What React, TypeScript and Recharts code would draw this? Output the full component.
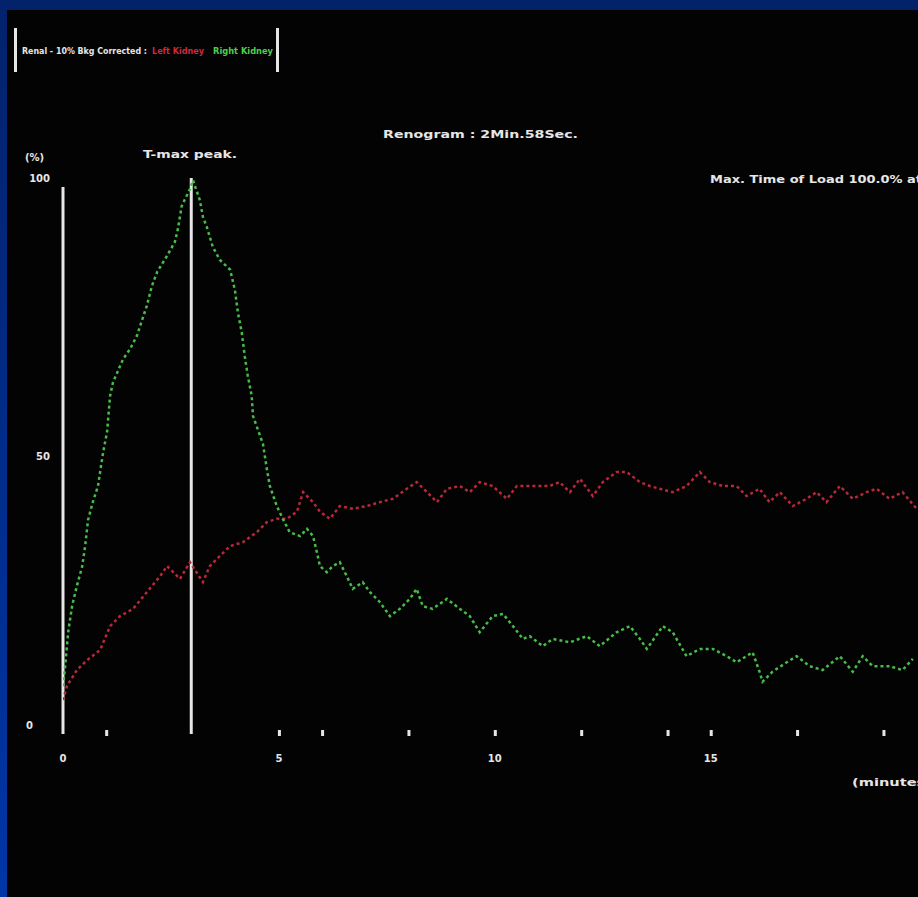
import React from "react";
import { LineChart, Line, XAxis, YAxis, ReferenceLine } from "recharts";

// Right kidney (green) curve: minutes / percent
const rightMinutes = [0, 0.05, 0.12, 0.21, 0.32, 0.44, 0.51, 0.58, 0.69, 0.81, 0.93, 1.02, 1.09, 1.16, 1.39, 1.55, 1.71, 1.94, 2.06, 2.18, 2.41, 2.59, 2.66, 2.75, 2.94, 3.01, 3.17, 3.24, 3.33, 3.47, 3.63, 3.87, 3.98, 4.05, 4.14, 4.21, 4.28, 4.37, 4.4, 4.63, 4.72, 4.79, 4.95, 5.09, 5.25, 5.49, 5.65, 5.79, 5.88, 5.95, 6.11, 6.25, 6.41, 6.57, 6.71, 6.94, 7.11, 7.34, 7.57, 7.8, 8.03, 8.19, 8.33, 8.56, 8.89, 9.19, 9.42, 9.65, 9.95, 10.19, 10.42, 10.65, 10.81, 11.11, 11.34, 11.74, 12.13, 12.43, 12.82, 13.13, 13.36, 13.52, 13.89, 14.12, 14.44, 14.75, 15.05, 15.37, 15.6, 15.97, 16.13, 16.2, 16.43, 16.76, 16.99, 17.29, 17.59, 17.99, 18.29, 18.52, 18.75, 19.14, 19.44, 19.68];
const rightValues = [8.6, 12.2, 18.3, 23, 26.6, 30, 33.6, 38.5, 41.7, 44.6, 50.7, 54.3, 60.8, 63.3, 67.4, 69.2, 71.6, 77, 80.6, 83.1, 86, 88.5, 90.8, 95, 98, 99.6, 96, 93, 91.2, 87.6, 85.3, 83.5, 79.9, 75.8, 72.2, 67.9, 64.4, 60.8, 57.2, 52.2, 47.7, 44.6, 41, 38.7, 36.3, 35.6, 36.9, 35.6, 32.7, 30.2, 29.1, 30.2, 30.9, 28.4, 26.1, 27.3, 25.5, 23.7, 21.2, 22.5, 24.3, 26.1, 23, 22.5, 24.3, 22.5, 21.2, 18.3, 21.2, 21.6, 19.4, 17.1, 17.6, 15.8, 17.1, 16.5, 17.6, 15.8, 18.3, 19.4, 17.1, 15.3, 19.4, 18.3, 14, 15.3, 15.3, 14, 12.9, 14.7, 11.2, 9.4, 11.2, 12.9, 14, 12.2, 11.5, 14, 11.2, 14, 12.2, 12.2, 11.5, 13.5];

// Left kidney (red) curve: minutes / percent
const leftMinutes = [0, 0.09, 0.32, 0.56, 0.86, 1.09, 1.32, 1.62, 1.94, 2.25, 2.41, 2.71, 2.94, 3.24, 3.4, 3.63, 3.87, 4.17, 4.49, 4.72, 4.95, 5.19, 5.42, 5.56, 5.79, 5.95, 6.18, 6.41, 6.71, 7.04, 7.34, 7.64, 7.96, 8.19, 8.43, 8.66, 8.89, 9.19, 9.42, 9.65, 9.95, 10.28, 10.51, 10.88, 11.27, 11.5, 11.74, 11.97, 12.27, 12.5, 12.82, 13.06, 13.36, 13.59, 13.82, 14.12, 14.44, 14.75, 14.98, 15.28, 15.6, 15.83, 16.13, 16.36, 16.6, 16.9, 17.22, 17.45, 17.68, 17.99, 18.29, 18.61, 18.84, 19.14, 19.44, 19.77];
const leftValues = [6.1, 8.6, 11.5, 13.3, 15.1, 19.4, 21.2, 22.5, 25.5, 28.4, 30.2, 27.9, 30.9, 27.3, 30.2, 32, 33.8, 34.5, 36.3, 38.1, 38.7, 38.7, 40, 43.5, 41.7, 40, 38.7, 41, 40.5, 41, 41.7, 42.3, 44.1, 45.3, 43.5, 41.7, 44.1, 44.6, 43.5, 45.3, 44.6, 42.3, 44.6, 44.6, 44.6, 45.3, 43.5, 45.9, 42.8, 45.3, 47.1, 47.1, 45.3, 44.6, 44.1, 43.5, 44.6, 47.1, 45.3, 44.6, 44.6, 42.8, 44.1, 41.7, 43.5, 41, 42.3, 43.5, 41.7, 44.6, 42.3, 43.5, 44.1, 42.3, 43.5, 40.5];

const xTicks = [0, 1, 5, 6, 8, 10, 12, 14, 15, 17, 19];
const xLabelled = [0, 5, 10, 15];
const yTicks = [0, 50, 100];
const tmaxMinutes = 2.97;

const rightData = rightMinutes.map((t, i) => ({ t, v: rightValues[i] }));
const leftData = leftMinutes.map((t, i) => ({ t, v: leftValues[i] }));

const FONT = "'DejaVu Sans', sans-serif";

const XTick = (props: any) => {
  const { x, y, payload } = props;
  const val = payload.value;
  return (
    <g>
      {val !== 0 && <rect x={x - 1} y={y - 4} width={3} height={6} fill="#e6e6e6" />}
      {xLabelled.includes(val) && (
        <text x={x} y={y + 28} textAnchor="middle" fill="#e6e6e6" fontSize={10} fontWeight="bold" fontFamily={FONT}>
          {val}
        </text>
      )}
    </g>
  );
};

const YTick = (props: any) => {
  const { y, payload } = props;
  const val = payload.value;
  const isZero = val === 0;
  return (
    <text
      x={isZero ? 26 : 50}
      y={isZero ? y - 5 : y + 4}
      textAnchor={isZero ? "start" : "end"}
      fill="#e6e6e6"
      fontSize={10}
      fontWeight="bold"
      fontFamily={FONT}
    >
      {val}
    </text>
  );
};

export default function App() {
  return (
    <div style={{ position: "absolute", left: 0, top: 0, width: 918, height: 897, overflow: "hidden", background: "#02226a" }}>
      <div
        style={{
          position: "absolute",
          left: 0,
          top: 0,
          width: 7,
          height: 897,
          background: "linear-gradient(#03226c, #0036a6)",
        }}
      />
      <div style={{ position: "absolute", left: 7, top: 10, width: 911, height: 887, background: "#030303" }} />
      <div style={{ position: "absolute", left: 0, top: 0 }}>
        <LineChart width={918} height={897} margin={{ top: 178, right: 0, bottom: 133, left: 23 }}>
          <XAxis
            dataKey="t"
            type="number"
            domain={[0, 19.8]}
            ticks={xTicks}
            allowDataOverflow
            axisLine={false}
            tickLine={false}
            tickSize={0}
            tickMargin={0}
            height={30}
            tick={<XTick />}
            interval={0}
          />
          <YAxis
            type="number"
            domain={[0, 100]}
            ticks={yTicks}
            axisLine={false}
            tickLine={false}
            width={40}
            tick={<YTick />}
            interval={0}
          />
          <ReferenceLine
            segment={[{ x: 0, y: 98.4 }, { x: 0, y: 0 }]}
            stroke="#e6e6e6"
            strokeWidth={3}
            ifOverflow="extendDomain"
          />
          <ReferenceLine x={tmaxMinutes} stroke="#e6e6e6" strokeWidth={3} />
          <Line
            data={leftData}
            dataKey="v"
            type="linear"
            stroke="#b8283a"
            strokeWidth={2.5}
            strokeDasharray="3 3"
            dot={false}
            isAnimationActive={false}
          />
          <Line
            data={rightData}
            dataKey="v"
            type="linear"
            stroke="#48bc48"
            strokeWidth={2.5}
            strokeDasharray="3 3"
            dot={false}
            isAnimationActive={false}
          />
        </LineChart>
      </div>
      <svg width={918} height={897} style={{ position: "absolute", left: 0, top: 0, pointerEvents: "none" }}>
        <rect x={14} y={28} width={3} height={44} fill="#e6e6e6" />
        <rect x={276} y={28} width={3} height={44} fill="#e6e6e6" />
        <text x={22} y={54} fill="#e6e6e6" fontSize={8.5} fontWeight="bold" fontFamily={FONT} textLength={125} lengthAdjust="spacingAndGlyphs">
          Renal - 10% Bkg Corrected :
        </text>
        <text x={152} y={54} fill="#d0283c" fontSize={8.5} fontWeight="bold" fontFamily={FONT} textLength={52} lengthAdjust="spacingAndGlyphs">
          Left Kidney
        </text>
        <text x={213} y={54} fill="#4cd04c" fontSize={8.5} fontWeight="bold" fontFamily={FONT} textLength={60} lengthAdjust="spacingAndGlyphs">
          Right Kidney
        </text>
        <text x={383} y={138} fill="#e6e6e6" fontSize={11} fontWeight="bold" fontFamily={FONT} textLength={195} lengthAdjust="spacingAndGlyphs">
          Renogram : 2Min.58Sec.
        </text>
        <text x={25} y={161} fill="#e6e6e6" fontSize={10} fontWeight="bold" fontFamily={FONT}>
          (%)
        </text>
        <text x={143} y={158} fill="#e6e6e6" fontSize={11} fontWeight="bold" fontFamily={FONT} textLength={94} lengthAdjust="spacingAndGlyphs">
          T-max peak.
        </text>
        <text x={710} y={183} fill="#e6e6e6" fontSize={11} fontWeight="bold" fontFamily={FONT} textLength={212} lengthAdjust="spacingAndGlyphs">
          Max. Time of Load 100.0% at
        </text>
        <text x={852} y={786} fill="#e6e6e6" fontSize={11} fontWeight="bold" fontFamily={FONT} textLength={80} lengthAdjust="spacingAndGlyphs">
          (minutes)
        </text>
      </svg>
    </div>
  );
}
